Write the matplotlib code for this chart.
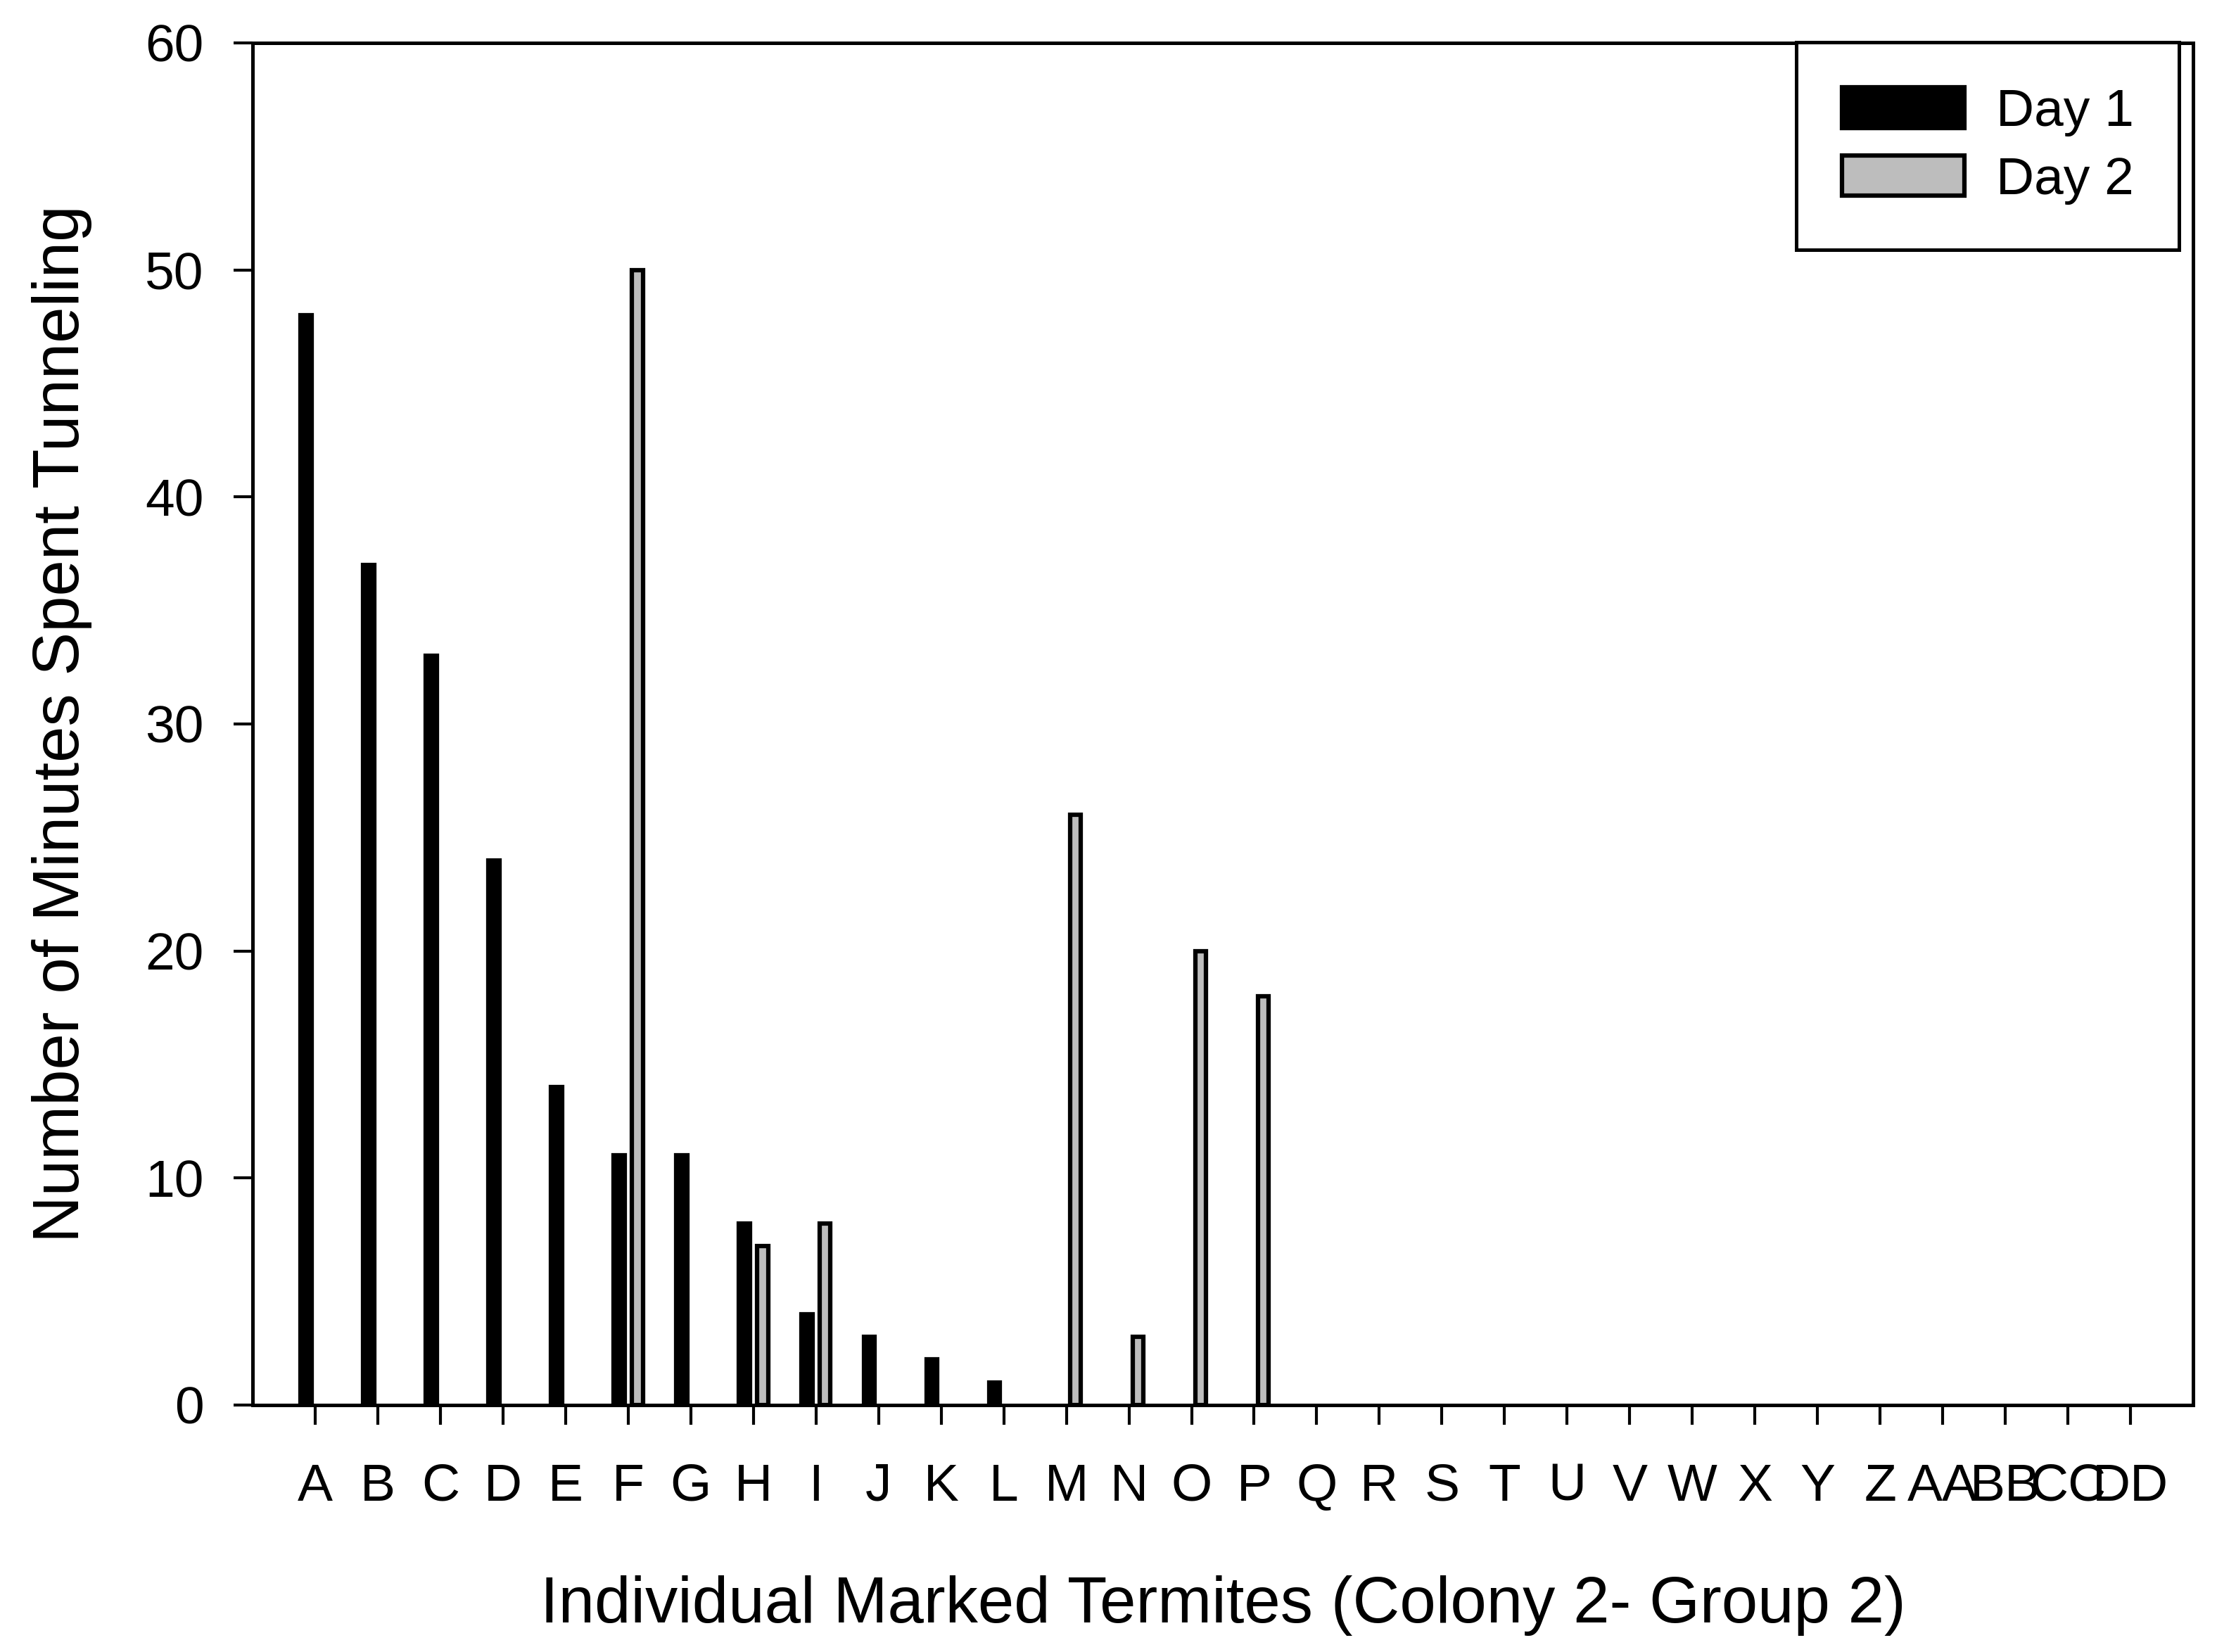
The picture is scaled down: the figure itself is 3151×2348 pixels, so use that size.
import matplotlib
matplotlib.use("Agg")
import matplotlib.pyplot as plt
import numpy as np

plt.rcParams['font.family'] = ['Liberation Sans', 'DejaVu Sans']

categories = ["A", "B", "C", "D", "E", "F", "G", "H", "I", "J", "K", "L", "M", "N", "O",
              "P", "Q", "R", "S", "T", "U", "V", "W", "X", "Y", "Z", "AA", "BB", "CC", "DD"]
day1 = [48, 37, 33, 24, 14, 11, 11, 8, 4, 3, 2, 1, 0, 0, 0,
        0, 0, 0, 0, 0, 0, 0, 0, 0, 0, 0, 0, 0, 0, 0]
day2 = [0, 0, 0, 0, 0, 50, 0, 7, 8, 0, 0, 0, 26, 3, 20,
        18, 0, 0, 0, 0, 0, 0, 0, 0, 0, 0, 0, 0, 0, 0]
yticks = [0, 10, 20, 30, 40, 50, 60]

W, H, DPI = 3151, 2348, 300
fig = plt.figure(figsize=(W / DPI, H / DPI), dpi=DPI)
ax = fig.add_axes([359 / W, 1 - 1997 / H, (3117 - 359) / W, (1997 - 61) / H])

x = np.arange(len(categories))
bw = 0.175
off = 0.146
lw = 1.5
d1 = [v if v > 0 else np.nan for v in day1]
d2 = [v if v > 0 else np.nan for v in day2]
ax.bar(x - off, d1, width=bw, color='black', edgecolor='black', linewidth=lw, label='Day 1', zorder=2)
ax.bar(x + off, d2, width=bw, color='#bdbdbd', edgecolor='black', linewidth=lw, label='Day 2', zorder=2)

ax.set_xlim(-1, 30)
ax.set_ylim(0, 60)
ax.set_xticks(x)
ax.set_xticklabels(categories)
ax.set_yticks(yticks)

for s in ax.spines.values():
    s.set_linewidth(1.2)
    s.set_color('black')
ax.tick_params(axis='both', direction='out', length=6.6, width=1.0, labelsize=18, colors='black')
ax.tick_params(axis='x', pad=13)
ax.tick_params(axis='y', pad=10)

ax.set_xlabel("Individual Marked Termites (Colony 2- Group 2)", fontsize=22.2, labelpad=22)
ax.set_ylabel("Number of Minutes Spent Tunneling", fontsize=22.2, labelpad=18)

leg = ax.legend(loc='upper left',
                bbox_to_anchor=(2553 / W, 1 - 62 / H, (3097 - 2553) / W, 0.001),
                bbox_transform=fig.transFigure, mode='expand',
                fontsize=18, handlelength=2.33, handleheight=0.8, handletextpad=0.6,
                borderpad=0.86, labelspacing=0.36, borderaxespad=0,
                fancybox=False, framealpha=1, edgecolor='black')
leg.get_frame().set_linewidth(1.2)

fig.savefig("out.png", dpi=DPI)
